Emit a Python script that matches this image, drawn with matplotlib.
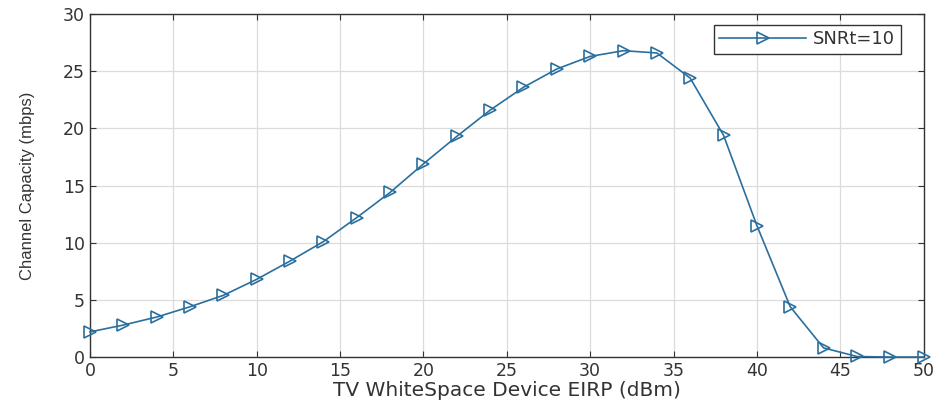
import matplotlib
matplotlib.use('Agg')
import matplotlib.pyplot as plt

eirp = [0, 2, 4, 6, 8, 10, 12, 14, 16, 18, 20, 22, 24, 26, 28, 30, 32, 34, 36, 38, 40, 42, 44, 46, 48, 50]
capacity = [2.2, 2.8, 3.5, 4.4, 5.4, 6.8, 8.4, 10.1, 12.2, 14.4, 16.9, 19.3, 21.6, 23.6, 25.2, 26.3,
            26.8, 26.6, 24.4, 19.4, 11.5, 4.4, 0.8, 0.05, 0.0, 0.0]
series_label = 'SNRt=10'

plt.rcParams['font.family'] = ['DejaVu Sans']
fig = plt.figure(figsize=(9.42, 4.03), dpi=100)
ax = fig.add_axes([0.0955, 0.114, 0.885, 0.851])
ax.plot(eirp, capacity, color='#2a6f9e', linewidth=1.2, marker='>', markersize=8,
        markerfacecolor='none', markeredgecolor='#2a6f9e', markeredgewidth=1.2,
        label=series_label, clip_on=False, zorder=3)
ax.set_xlim(0, 50)
ax.set_ylim(0, 30)
ax.set_xticks(range(0, 51, 5))
ax.set_yticks(range(0, 31, 5))
ax.grid(True, color='#dcdcdc', linewidth=0.9)
ax.set_axisbelow(True)
ax.tick_params(direction='in', top=True, right=True, labelsize=12.5, colors='#333333', length=4)
for s in ax.spines.values():
    s.set_color('#333333')
    s.set_linewidth(1.0)
ax.set_xlabel('TV WhiteSpace Device EIRP (dBm)', fontsize=14.5, color='#333333', labelpad=1)
ax.set_ylabel('Channel Capacity (mbps)', fontsize=12, color='#333333', labelpad=20,
              family=['Liberation Sans', 'DejaVu Sans'])
leg = ax.legend(loc='upper right', bbox_to_anchor=(0.9724, 0.968), borderaxespad=0,
                fontsize=13, fancybox=False, edgecolor='#333333', framealpha=1,
                handlelength=4.8, borderpad=0.3, handletextpad=0.4)
leg.get_frame().set_linewidth(1.0)
for t in leg.get_texts():
    t.set_color('#333333')
fig.savefig('out.png', dpi=100)
